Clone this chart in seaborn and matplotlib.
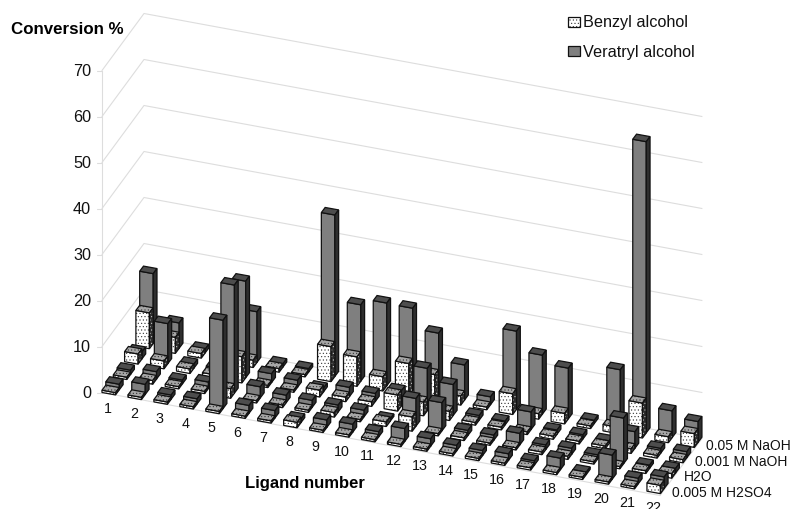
import numpy as np
import pandas as pd
import seaborn as sns
import matplotlib.pyplot as plt
from matplotlib.patches import Polygon

ligands = [str(i) for i in range(1, 23)]
conditions = ['0.005 M H2SO4', 'H2O', '0.001 M NaOH', '0.05 M NaOH']
alcohols = ['Benzyl alcohol', 'Veratryl alcohol']
ticks = [0, 10, 20, 30, 40, 50, 60, 70]

h2so4_benzyl = [.5, .5, .5, .5, .5, .5, .5, 1.2, .5, .5, .5, .5, .5, .5, .5, .5, .5, .5, .5, .5, .5, 1.8]
h2so4_veratryl = [1.2, 2.2, .9, 1.1, 19.2, 1.7, 1.6, .8, 1.6, 1.7, 1.1, 2.8, 1.6, 1.2, 1.1, 1.4, .9, 2.5, .5, 5.2, 1.2, 2.5]
h2o_benzyl = [.5, .8, .5, .5, 2.1, .5, .6, .5, 1, .5, 1, 3.1, .5, .6, .5, .5, .6, .7, .5, .5, .6, 1]
h2o_veratryl = [.9, 1.6, .8, 1.4, 23.5, 2.4, 1.6, 1.5, 1.5, 1.4, .5, 6, 6.1, 1.1, 1.1, 2.5, 1, 1.3, .9, 9.9, .7, 1]
naoh001_benzyl = [2.2, 1.7, 1, .7, 5.7, .5, .5, 1.5, 1, 1, 3.5, 3, 2, .6, .6, .6, .7, .6, .6, 1, .6, .7]
naoh001_veratryl = [1.5, 8.7, .9, 1, 21, 1.9, 1.5, .8, 2, 1.7, 3.3, 9.2, 6.7, 1, .8, 3.8, .9, .9, .6, 3.6, 1, 1.3]
naoh05_benzyl = [7.8, 3.5, 1, 1, 1.6, .8, .5, 7.6, 6.4, 3.1, 7, 5.6, 2, .6, 4.5, 1.2, 2.3, .6, 1.4, 7.6, 1.3, 3]
naoh05_veratryl = [15.2, 5.5, .8, 1, 11, .7, .7, 35.1, 16.6, 18, 17.9, 13.5, 7.6, 1.7, 17, 12.8, 11, .7, 12.7, 63.3, 5.8, 4.5]

series = [h2so4_benzyl, h2so4_veratryl, h2o_benzyl, h2o_veratryl,
          naoh001_benzyl, naoh001_veratryl, naoh05_benzyl, naoh05_veratryl]
rows = []
for n, vals in enumerate(series):
    for i, v in enumerate(vals):
        rows.append({'ligand': i, 'row': n // 2, 'alcohol': n % 2, 'conv': v})
df = pd.DataFrame(rows)

sns.set_style('white')
plt.rcParams['font.family'] = ['Liberation Sans', 'DejaVu Sans']
plt.rcParams['hatch.linewidth'] = 0.4
grays = sns.color_palette(['#7f7f7f', '#4d4d4d', '#2e2e2e'])

fig, ax = plt.subplots(figsize=(7.9, 5.1), dpi=100)
ax.set_position([0, 0, 1, 1])
ax.set_xlim(0, 790)
ax.set_ylim(510, 0)
ax.axis('off')

# oblique projection of the excel style 3d chart
ox, oy = 102, 393.5
per_value = 4.6
step_x = (25.95, 4.7)
step_row = (11.3, -15.4)
step_alc = (3.8, -5.1)
bar_w = 13.5 / 25.95
wall = (42, -57)
wall_len = (558, 103)


def proj(x, row, z):
    return (ox + x * step_x[0] + row * step_row[0],
            oy + x * step_x[1] + row * step_row[1] - z * per_value)


def face(pts, color, dots=None, z=1):
    if dots is not None:
        ax.add_patch(Polygon(pts, closed=True, facecolor=color, edgecolor=dots,
                             hatch='.....', lw=0, zorder=z))
    else:
        ax.add_patch(Polygon(pts, closed=True, facecolor=color, edgecolor='none', zorder=z))
    ax.add_patch(Polygon(pts, closed=True, fill=False, edgecolor='#111111', lw=0.9, zorder=z))


def draw_bar(x, row, alc, v, z):
    d = row + alc * step_alc[0] / step_row[0]
    sh = step_alc[0]
    sv = step_alc[1]
    a = proj(x, d, 0)
    b = proj(x + bar_w, d, 0)
    c = proj(x + bar_w, d, v)
    e = proj(x, d, v)
    c2 = (c[0] + sh, c[1] + sv)
    e2 = (e[0] + sh, e[1] + sv)
    b2 = (b[0] + sh, b[1] + sv)
    if alc == 1:
        face([a, b, c, e], grays[0], z=z)
        face([e, c, c2, e2], grays[1], z=z)
        face([b, b2, c2, c], grays[2], z=z)
    else:
        face([a, b, c, e], 'white', dots='#333333', z=z)
        face([e, c, c2, e2], '#a6a6a6', dots='#333333', z=z)
        face([b, b2, c2, c], '#2e2e2e', dots='#cccccc', z=z)


# walls and gridlines
grid = '#dddddd'
ax.plot([ox, ox], [oy, proj(0, 0, 70)[1]], color=grid, lw=0.8, zorder=0)
for t in ticks:
    x0, y0 = proj(0, 0, t)
    ax.plot([x0, x0 + wall[0], x0 + wall[0] + wall_len[0]],
            [y0, y0 + wall[1], y0 + wall[1] + wall_len[1]], color=grid, lw=0.8, zorder=0)
    ax.plot([x0 - 5, x0], [y0, y0], color=grid, lw=0.8, zorder=0)
    ax.text(x0 - 11, y0, str(t), ha='right', va='center', fontsize=11.7, color='#111111')
ax.plot([ox, ox + wall_len[0]], [oy, oy + wall_len[1]], color=grid, lw=0.8, zorder=0)
ax.plot([ox + wall_len[0], ox + wall_len[0] + wall[0]],
        [oy + wall_len[1], oy + wall_len[1] + wall[1]], color=grid, lw=0.8, zorder=0)

# back to front, left to right
order = df.sort_values(['row', 'alcohol', 'ligand'], ascending=[False, False, True])
z = 2
for rec in order.itertuples():
    draw_bar(rec.ligand, rec.row, rec.alcohol, rec.conv, z)
    z += 1

for i, lab in enumerate(ligands):
    px, py = proj(i, 0, 0)
    ax.text(px + 6, py + 16, lab, ha='center', va='center', fontsize=10.3, color='#111111')

for j, lab in enumerate(conditions):
    ax.text(672 + j * 11.4, 493 - j * 15.6, lab, ha='left', va='center',
            fontsize=10, color='#111111', zorder=z + 5)

ax.text(11, 29, 'Conversion %', fontweight='bold', fontsize=12.2, va='center', color='black')
ax.text(245, 484, 'Ligand number', fontweight='bold', fontsize=12, va='center', color='black')

# legend
face([(567.5, 18), (579.5, 18), (579.5, 28), (567.5, 28)], 'white', dots='#333333', z=z)
face([(567.5, 47), (579.5, 47), (579.5, 57), (567.5, 57)], grays[0], z=z)
ax.text(583, 23, alcohols[0], fontsize=11.7, va='center', color='#111111')
ax.text(583, 52, alcohols[1], fontsize=11.7, va='center', color='#111111')

fig.savefig('out.png', dpi=100)
